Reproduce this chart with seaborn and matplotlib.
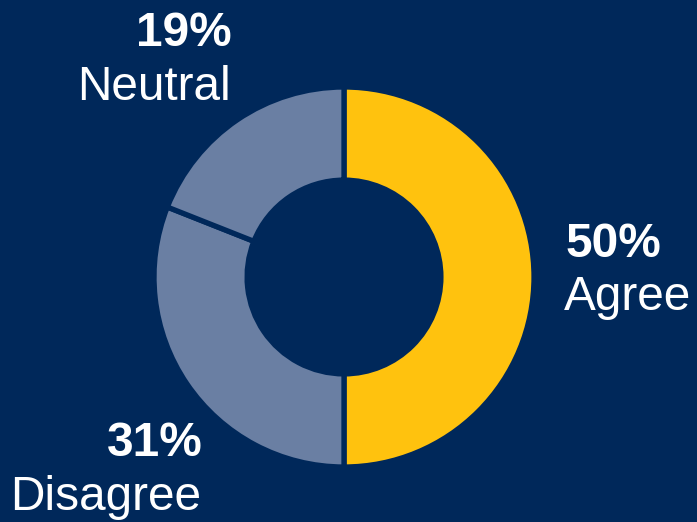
import matplotlib
matplotlib.use("Agg")
import matplotlib.pyplot as plt
import seaborn as sns

# Survey responses
categories = ["Agree", "Disagree", "Neutral"]
shares = [50, 31, 19]

BG = "#00285A"
slice_colors = ["#FFC20E", "#6A7FA3", "#6A7FA3"]

sns.set_theme(style="white")
plt.rcParams["font.family"] = ["Liberation Sans", "DejaVu Sans"]

fig = plt.figure(figsize=(6.97, 5.22), dpi=100, facecolor=BG)
ax = fig.add_axes([0, 0, 1, 1])
ax.set_facecolor(BG)

ax.pie(
    shares,
    colors=slice_colors,
    startangle=90,
    counterclock=False,
    radius=1.0,
    center=(0, 0),
    wedgeprops=dict(width=0.49, edgecolor=BG, linewidth=3.8),
)

# one data unit = 190 px, ring centred at (344, 277) px from top-left
ax.set_xlim(-344 / 190, (697 - 344) / 190)
ax.set_ylim(-245 / 190, (522 - 245) / 190)
ax.set_aspect("equal")
ax.axis("off")


def px(x, y):
    return (x - 344) / 190, (277 - y) / 190


fs = 34.4
label_layout = {
    "Agree": dict(pct=(566, 257), name=(564, 310), ha="left"),
    "Disagree": dict(pct=(203, 456), name=(201, 510), ha="right"),
    "Neutral": dict(pct=(232, 46), name=(231, 100), ha="right"),
}

for cat, val in zip(categories, shares):
    lay = label_layout[cat]
    x, y = px(*lay["pct"])
    ax.text(x, y, f"{val}%", color="white", fontsize=fs, fontweight="bold",
            ha=lay["ha"], va="baseline")
    x, y = px(*lay["name"])
    ax.text(x, y, cat, color="white", fontsize=fs, ha=lay["ha"], va="baseline")

fig.savefig("out.png", dpi=100, facecolor=BG)
